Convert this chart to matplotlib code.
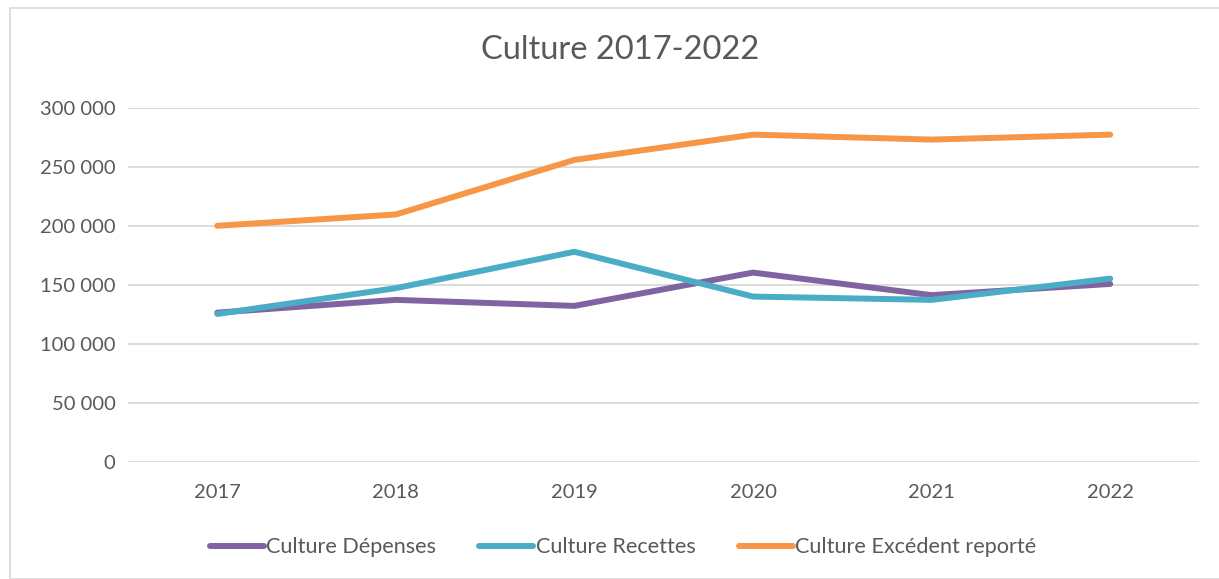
import matplotlib.pyplot as plt
from matplotlib.patches import Rectangle
from matplotlib.ticker import FuncFormatter

plt.rcParams['font.family'] = ['Lato', 'DejaVu Sans']

# Données
annees = ['2017', '2018', '2019', '2020', '2021', '2022']
depenses = [126500, 137300, 132200, 160400, 141300, 150800]
recettes = [125400, 147200, 178000, 140100, 137300, 155300]
excedent = [200000, 209600, 255800, 277200, 273000, 277200]

gris_txt = '#595959'

fig = plt.figure(figsize=(12.19, 5.79), dpi=100)
ax = fig.add_axes([0.105, 0.202, 0.879, 0.612])

x = range(len(annees))
ax.plot(x, depenses, color='#8064A2', lw=4.3, solid_capstyle='round', label='Culture Dépenses')
ax.plot(x, recettes, color='#4BACC6', lw=4.3, solid_capstyle='round', label='Culture Recettes')
ax.plot(x, excedent, color='#F79646', lw=4.3, solid_capstyle='round', label='Culture Excédent reporté')

ax.set_xlim(-0.5, len(annees) - 0.5)
ax.set_ylim(0, 300000)
ax.set_yticks(range(0, 300001, 50000))
ax.yaxis.set_major_formatter(FuncFormatter(lambda v, p: f'{int(v):,}'.replace(',', ' ')))
ax.set_xticks(list(x))
ax.set_xticklabels(annees)
ax.grid(axis='y', color='#D9D9D9', lw=1.3)
ax.set_axisbelow(True)
for s in ax.spines.values():
    s.set_visible(False)
ax.tick_params(length=0, labelsize=14.5, colors=gris_txt)
ax.tick_params(axis='y', pad=9)
ax.tick_params(axis='x', pad=16)

fig.text(0.509, 0.913, 'Culture 2017-2022', ha='center', va='center', fontsize=23.5, color=gris_txt)

ax.legend(loc='center', bbox_to_anchor=(0.511, 0.055), bbox_transform=fig.transFigure,
          ncol=3, frameon=False, fontsize=15.6, handlelength=2.5, handletextpad=0.1,
          columnspacing=2.0, labelcolor=gris_txt)

# cadre du graphique
fig.patches.append(Rectangle((0.008, 0.0), 1.0, 0.986, transform=fig.transFigure,
                             fill=False, edgecolor='#D9D9D9', lw=1.2))

fig.savefig('out.png', dpi=100)
